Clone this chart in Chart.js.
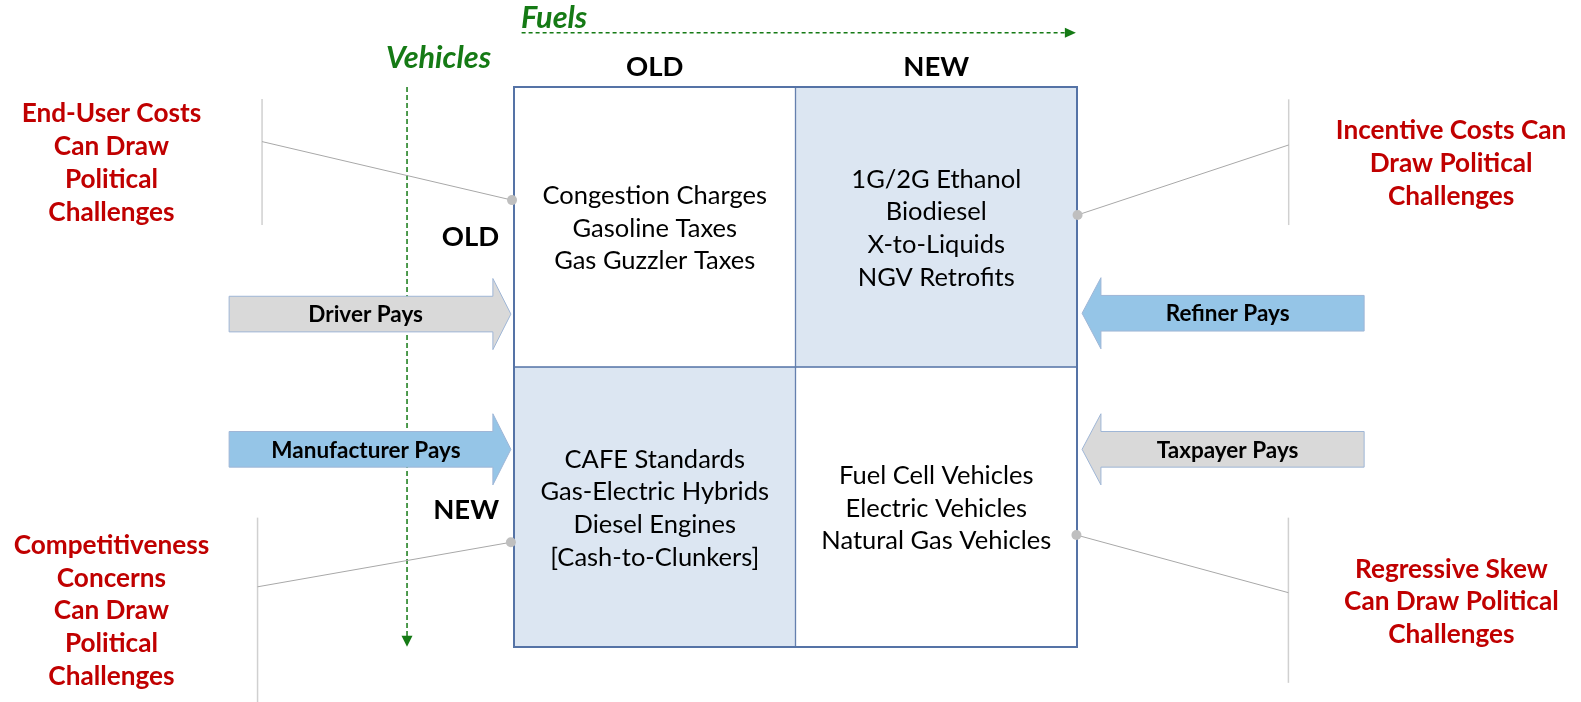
<!DOCTYPE html>
<html><head><meta charset="utf-8">
<script src="https://cdn.jsdelivr.net/npm/chart.js@4.4.1/dist/chart.umd.min.js"></script>
<style>html,body{margin:0;padding:0;background:#fff}#wrap{width:1581px;height:702px;position:relative}</style>
</head><body><div id="wrap"><canvas id="c"></canvas></div>
<script>
// ---- data ----
const fuelCategories = ['OLD', 'NEW'];
const vehicleCategories = ['OLD', 'NEW'];
const axisTitles = ['Fuels', 'Vehicles'];
const oldVehicleOldFuel = ['Congestion Charges', 'Gasoline Taxes', 'Gas Guzzler Taxes'];
const oldVehicleNewFuel = ['1G/2G Ethanol', 'Biodiesel', 'X-to-Liquids', 'NGV Retrofits'];
const newVehicleOldFuel = ['CAFE Standards', 'Gas-Electric Hybrids', 'Diesel Engines', '[Cash-to-Clunkers]'];
const newVehicleNewFuel = ['Fuel Cell Vehicles', 'Electric Vehicles', 'Natural Gas Vehicles'];
const payerLabels = ['Driver Pays', 'Manufacturer Pays', 'Refiner Pays', 'Taxpayer Pays'];
const endUserCallout = ['End-User Costs', 'Can Draw', 'Political', 'Challenges'];
const incentiveCallout = ['Incentive Costs Can', 'Draw Political', 'Challenges'];
const competitivenessCallout = ['Competitiveness', 'Concerns', 'Can Draw', 'Political', 'Challenges'];
const regressiveCallout = ['Regressive Skew', 'Can Draw Political', 'Challenges'];

const cellPolicies = [[oldVehicleOldFuel, oldVehicleNewFuel], [newVehicleOldFuel, newVehicleNewFuel]];

// ---- styles ----
const FAMILY = 'Lato, "Open Sans", sans-serif';
const CELL_BLUE = '#dce6f2';
const GRID_LINE = '#5573a6';
const RED = '#c00000';
const GREEN = '#157a15';
const ARROW_BLUE = '#95c5e7', ARROW_GRAY = '#d9d9d9', ARROW_EDGE = '#9fb6d6';

function fitSize(ctx, text, target, style) {
  ctx.font = style + ' 100px ' + FAMILY;
  const w = ctx.measureText(text).width;
  return Math.round(100 * target / w * 10) / 10;
}

const diagram = {
  id: 'diagram',
  afterDatasetsDraw(chart) {
    const ctx = chart.ctx, xs = chart.scales.x, ys = chart.scales.y;
    const ux = u => xs.getPixelForValue(u - 0.5);
    const uy = v => ys.getPixelForValue(v);
    const dy = d => uy(d) - uy(0);

    const fCell = fitSize(ctx, 'Congestion Charges', 224, 'normal');
    const fRed = fitSize(ctx, 'Competitiveness', 196, 'bold');
    const fPay = fitSize(ctx, 'Manufacturer Pays', 189, 'bold');
    const fHead = fitSize(ctx, 'NEW', 66, 'bold');
    const fGreen = fitSize(ctx, 'Vehicles', 105, 'italic bold');
    const lineStep = dy(0.1168);

    ctx.save();
    // outer border reinforcement
    const a = chart.chartArea;
    ctx.strokeStyle = GRID_LINE; ctx.lineWidth = 2;
    ctx.strokeRect(a.left, a.top, a.right - a.left, a.bottom - a.top);

    // ---- green axis arrows ----
    ctx.strokeStyle = GREEN; ctx.fillStyle = GREEN; ctx.lineWidth = 1.5;
    ctx.setLineDash([4, 3]);
    const fy = uy(-0.194);
    ctx.beginPath(); ctx.moveTo(ux(0.027), fy); ctx.lineTo(ux(1.996) - 10, fy); ctx.stroke();
    const vx = ux(-0.380);
    ctx.setLineDash([5, 3]);
    ctx.beginPath(); ctx.moveTo(vx, uy(0)); ctx.lineTo(vx, uy(1.999) - 10); ctx.stroke();
    ctx.setLineDash([]);
    ctx.beginPath(); ctx.moveTo(ux(1.996), fy); ctx.lineTo(ux(1.996) - 11, fy - 5); ctx.lineTo(ux(1.996) - 11, fy + 5); ctx.closePath(); ctx.fill();
    ctx.beginPath(); ctx.moveTo(vx, uy(1.999)); ctx.lineTo(vx - 5.5, uy(1.999) - 11); ctx.lineTo(vx + 5.5, uy(1.999) - 11); ctx.closePath(); ctx.fill();
    ctx.font = 'italic bold ' + fGreen + 'px ' + FAMILY;
    ctx.textBaseline = 'middle';
    ctx.textAlign = 'left';
    ctx.fillText(axisTitles[0], ux(0.025), uy(-0.245));
    ctx.textAlign = 'center';
    ctx.fillText(axisTitles[1], ux(-0.268), uy(-0.1025));

    // ---- callout lines ----
    const callouts = [
      { lines: endUserCallout, tx: -1.430, ty: 0.0964, vx: -0.895, v0: 0.043, v1: 0.493, jy: 0.195, dotx: -0.007, doty: 0.404 },
      { lines: incentiveCallout, tx: 3.329, ty: 0.156, vx: 2.752, v0: 0.044, v1: 0.493, jy: 0.207, dotx: 2.002, doty: 0.457 },
      { lines: competitivenessCallout, tx: -1.430, ty: 1.638, vx: -0.911, v0: 1.538, v1: 2.3, jy: 1.785, dotx: -0.011, doty: 1.626 },
      { lines: regressiveCallout, tx: 3.330, ty: 1.7225, vx: 2.751, v0: 1.538, v1: 2.128, jy: 1.806, dotx: 1.998, doty: 1.600 }
    ];
    callouts.forEach(c => {
      ctx.strokeStyle = '#d0d0d0'; ctx.lineWidth = 1.5;
      ctx.beginPath(); ctx.moveTo(ux(c.vx), uy(c.v0)); ctx.lineTo(ux(c.vx), uy(c.v1)); ctx.stroke();
      ctx.strokeStyle = '#a8a8a8'; ctx.lineWidth = 1;
      ctx.beginPath(); ctx.moveTo(ux(c.vx), uy(c.jy)); ctx.lineTo(ux(c.dotx), uy(c.doty)); ctx.stroke();
      ctx.fillStyle = '#bfbfbf';
      ctx.beginPath(); ctx.arc(ux(c.dotx), uy(c.doty), 5, 0, Math.PI * 2); ctx.fill();
      ctx.fillStyle = RED; ctx.font = 'bold ' + fRed + 'px ' + FAMILY;
      ctx.textAlign = 'center'; ctx.textBaseline = 'middle';
      c.lines.forEach((t, k) => ctx.fillText(t, ux(c.tx), uy(c.ty) + k * lineStep));
    });

    // ---- payer arrows ----
    const bodyH = dy(0.0636), headH = dy(0.127);
    const arrows = [
      { label: payerLabels[0], fill: ARROW_GRAY, tip: -0.011, base: -0.075, end: -1.012, cy: 0.811, tx: -0.527 },
      { label: payerLabels[1], fill: ARROW_BLUE, tip: -0.011, base: -0.075, end: -1.012, cy: 1.294, tx: -0.526 },
      { label: payerLabels[2], fill: ARROW_BLUE, tip: 2.018, base: 2.085, end: 3.020, cy: 0.808, tx: 2.535 },
      { label: payerLabels[3], fill: ARROW_GRAY, tip: 2.018, base: 2.085, end: 3.020, cy: 1.294, tx: 2.535 }
    ];
    arrows.forEach(r => {
      const cy = uy(r.cy), tip = ux(r.tip), base = ux(r.base), end = ux(r.end);
      ctx.beginPath();
      ctx.moveTo(end, cy - bodyH); ctx.lineTo(base, cy - bodyH); ctx.lineTo(base, cy - headH);
      ctx.lineTo(tip, cy); ctx.lineTo(base, cy + headH); ctx.lineTo(base, cy + bodyH);
      ctx.lineTo(end, cy + bodyH); ctx.closePath();
      ctx.fillStyle = r.fill; ctx.fill();
      ctx.strokeStyle = ARROW_EDGE; ctx.lineWidth = 1; ctx.stroke();
      ctx.fillStyle = '#000'; ctx.font = 'bold ' + fPay + 'px ' + FAMILY;
      ctx.textAlign = 'center'; ctx.textBaseline = 'middle';
      ctx.fillText(r.label, ux(r.tx), cy + 1);
    });

    // ---- headers ----
    ctx.fillStyle = '#000'; ctx.font = 'bold ' + fHead + 'px ' + FAMILY;
    ctx.textAlign = 'center'; ctx.textBaseline = 'middle';
    fuelCategories.forEach((f, j) => ctx.fillText(f, xs.getPixelForValue(j), uy(-0.0725)));
    ctx.textAlign = 'right';
    const rowY = [0.537, 1.511];
    vehicleCategories.forEach((v, i) => ctx.fillText(v, ux(-0.053), uy(rowY[i])));

    // ---- cell texts ----
    ctx.font = 'normal ' + fCell + 'px ' + FAMILY;
    ctx.textAlign = 'center';
    cellPolicies.forEach((row, i) => row.forEach((lines, j) => {
      const cx = xs.getPixelForValue(j);
      const cy = uy(i + 0.5) + 1.5;
      const startY = cy - (lines.length - 1) / 2 * 32.7;
      lines.forEach((t, k) => ctx.fillText(t, cx, startY + k * 32.7));
    }));
    ctx.restore();
  }
};

new Chart(document.getElementById('c'), {
  type: 'bar',
  data: {
    labels: fuelCategories,
    datasets: vehicleCategories.map((v, i) => ({
      label: v + ' vehicles',
      data: fuelCategories.map(() => [i, i + 1]),
      backgroundColor: fuelCategories.map((f, j) => ((i + j) % 2 ? CELL_BLUE : '#ffffff')),
      borderColor: GRID_LINE,
      borderWidth: 1,
      borderSkipped: false,
      grouped: false,
      barPercentage: 1,
      categoryPercentage: 1
    }))
  },
  options: {
    responsive: true,
    maintainAspectRatio: false,
    devicePixelRatio: 1,
    animation: false,
    events: [],
    layout: { padding: { left: 514, right: 504, top: 87, bottom: 55 } },
    plugins: { legend: { display: false }, tooltip: { enabled: false } },
    scales: {
      x: { display: false, offset: true },
      y: { display: false, min: 0, max: 2, reverse: true }
    }
  },
  plugins: [diagram]
});
</script>
</body></html>
